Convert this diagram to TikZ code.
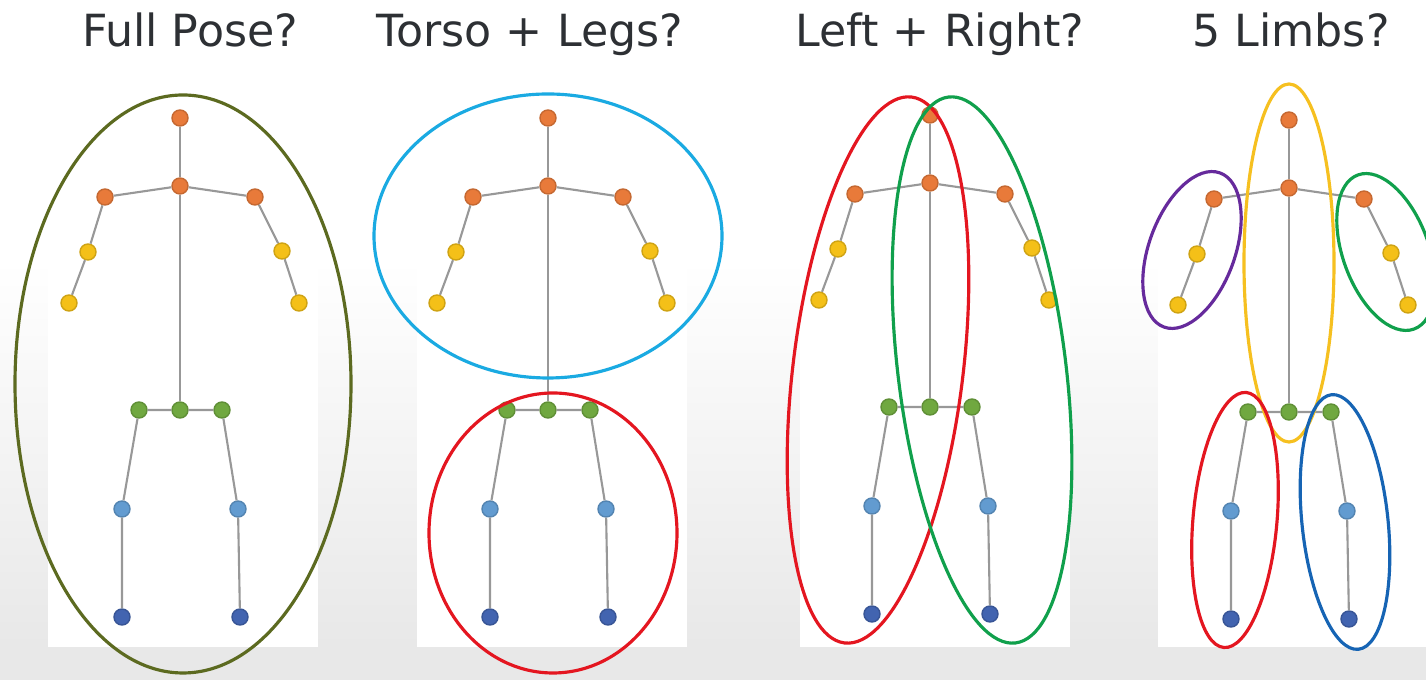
\documentclass[tikz,border=0pt]{standalone}
\usepackage{fontspec}
\usepackage{xcolor}
\usepackage{tikz}
\setmainfont{DejaVu Sans}
\usetikzlibrary{positioning, calc}
\definecolor{jorange}{RGB}{232,122,58}
\definecolor{jyellow}{RGB}{244,192,24}
\definecolor{jgreen}{RGB}{112,168,64}
\definecolor{jlblue}{RGB}{98,155,208}
\definecolor{jdblue}{RGB}{66,100,176}
\definecolor{osso}{RGB}{152,152,152}
\definecolor{sfondo}{RGB}{232,232,232}
\definecolor{testo}{RGB}{45,48,52}

\begin{document}
\begin{tikzpicture}[x=0.01cm, y=-0.01cm,
        joint/.style={circle, inner sep=0pt, minimum size=0.16cm, line width=0.4pt},
        jtorso/.style={joint, fill=jorange, draw=jorange!85!black},
        jarm/.style={joint, fill=jyellow, draw=jyellow!85!black},
        jhip/.style={joint, fill=jgreen, draw=jgreen!85!black},
        jknee/.style={joint, fill=jlblue, draw=jlblue!85!black},
        jankle/.style={joint, fill=jdblue, draw=jdblue!85!black},
        bone/.style={draw=osso, line width=0.6pt},
        gruppo/.style={line width=0.9pt},
        titolo/.style={anchor=base, text=testo, font=\fontsize{12.6}{15}\selectfont}]

        % Definizione colori dei gruppi
        \definecolor{oliva}{RGB}{92,106,32}
        \definecolor{ciano}{RGB}{26,170,226}
        \definecolor{rosso}{RGB}{228,22,32}
        \definecolor{verde}{RGB}{16,160,76}
        \definecolor{giallo}{RGB}{246,192,32}
        \definecolor{viola}{RGB}{102,42,156}
        \definecolor{blu}{RGB}{22,100,180}

        \useasboundingbox (0,0) rectangle (1426,680);
        \clip (0,0) rectangle (1426,680);

        % Sfondo sfumato e pannelli bianchi
        \fill[white] (0,0) rectangle (1426,680);
        \shade[top color=white, bottom color=sfondo] (0,260) rectangle (1426,647);
        \fill[sfondo] (0,647) rectangle (1426,680);
        \foreach \xa in {48,417,800,1158}
            \fill[white] (\xa,200) rectangle ++(270,447);

        % Titoli
        \node[titolo] (t-full) at (190,47) {Full Pose?};
        \node[titolo] (t-torso) at (530,47) {Torso + Legs?};
        \node[titolo] (t-lr) at (940,47) {Left + Right?};
        \node[titolo] (t-limbs) at (1291,47) {5 Limbs?};

        % Scheletri (uno per pannello)
        \foreach \p/\dx/\dy in {a/180/0, b/548/0, c/930/-3, d/1289/2} {
            \begin{scope}[shift={(\dx,\dy)}]
                \node[jtorso] (\p-head) at (0,118) {};
                \node[jtorso] (\p-neck) at (0,186) {};
                \node[jtorso] (\p-lsh) at (-75,197) {};
                \node[jtorso] (\p-rsh) at (75,197) {};
                \node[jarm] (\p-lel) at (-92,252) {};
                \node[jarm] (\p-rel) at (102,251) {};
                \node[jarm] (\p-lwr) at (-111,303) {};
                \node[jarm] (\p-rwr) at (119,303) {};
                \node[jhip] (\p-lhip) at (-41,410) {};
                \node[jhip] (\p-mhip) at (0,410) {};
                \node[jhip] (\p-rhip) at (42,410) {};
                \node[jknee] (\p-lkn) at (-58,509) {};
                \node[jknee] (\p-rkn) at (58,509) {};
                \node[jankle] (\p-lan) at (-58,617) {};
                \node[jankle] (\p-ran) at (60,617) {};

                \draw[bone] (\p-head) -- (\p-neck) -- (\p-mhip);
                \draw[bone] (\p-lwr) -- (\p-lel) -- (\p-lsh) -- (\p-neck) -- (\p-rsh) -- (\p-rel) -- (\p-rwr);
                \draw[bone] (\p-lan) -- (\p-lkn) -- (\p-lhip) -- (\p-mhip) -- (\p-rhip) -- (\p-rkn) -- (\p-ran);
            \end{scope}
        }

        % Full Pose
        \draw[gruppo, oliva] (183,384) ellipse [x radius=168, y radius=289];

        % Torso + Legs
        \draw[gruppo, ciano] (548,236) ellipse [x radius=174, y radius=142];
        \draw[gruppo, rosso] (553,533) ellipse [x radius=124, y radius=140];

        % Left + Right
        \draw[gruppo, rosso] (878,370) ellipse [x radius=85, y radius=275, rotate=-7];
        \draw[gruppo, verde] (982,370) ellipse [x radius=84, y radius=275, rotate=7];

        % 5 Limbs
        \draw[gruppo, giallo] (1289,263) ellipse [x radius=45, y radius=179];
        \draw[gruppo, viola] (1192,250) ellipse [x radius=43, y radius=82, rotate=-20];
        \draw[gruppo, verde] (1386,252) ellipse [x radius=43, y radius=82, rotate=20];
        \draw[gruppo, rosso] (1235,520) ellipse [x radius=42, y radius=128, rotate=-5];
        \draw[gruppo, blu] (1345,522) ellipse [x radius=43, y radius=128, rotate=6];
    \end{tikzpicture}
\end{document}
